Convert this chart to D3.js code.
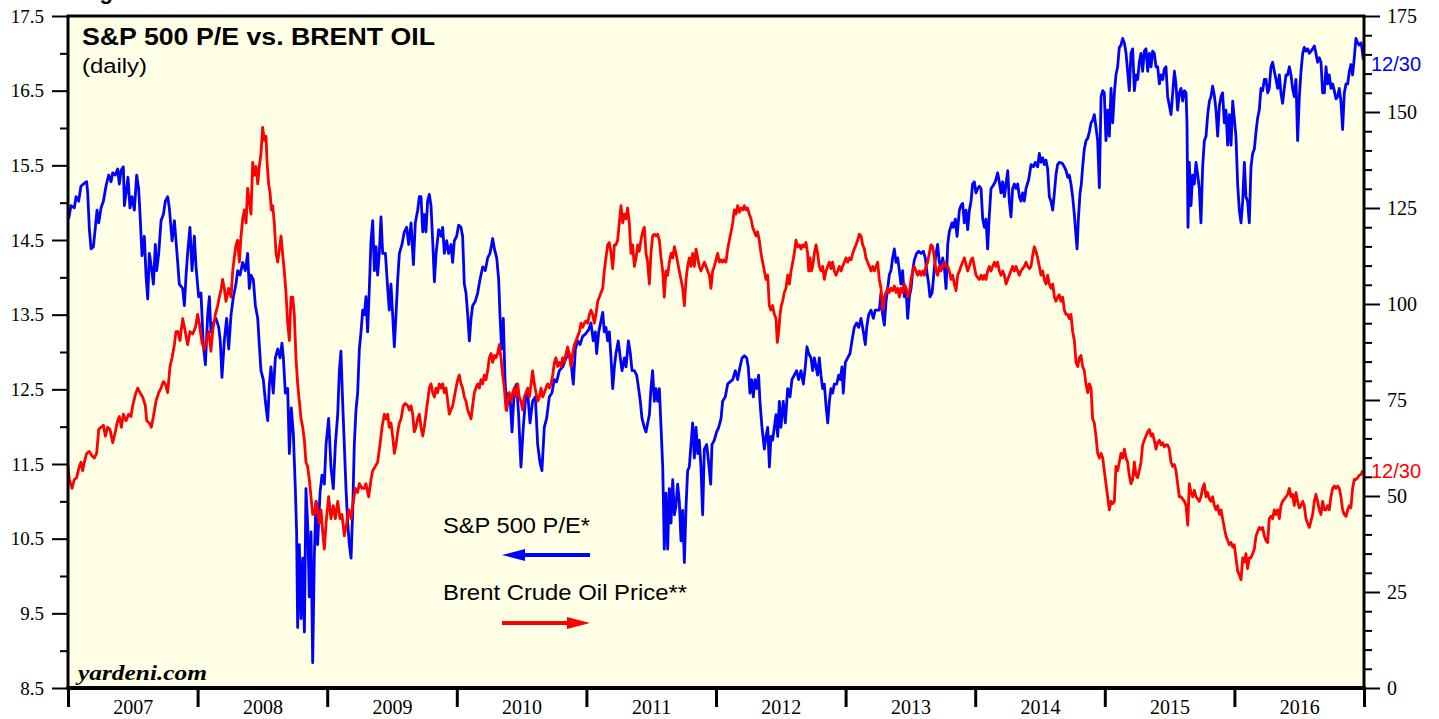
<!DOCTYPE html>
<html><head><meta charset="utf-8">
<script src="https://cdn.jsdelivr.net/npm/d3@7"></script>
<style>
html,body{margin:0;padding:0;background:#fff;overflow:hidden}
svg{display:block}
</style></head>
<body><svg id="chart" width="1439" height="719"></svg>
<script>
// S&P 500 forward P/E (left axis) — [decimal year, value]
const pePoints = [
[2007.005,14.78],[2007.023,14.96],[2007.049,14.93],[2007.062,15.08],[2007.082,15.02],[2007.100,15.22],[2007.126,15.26],[2007.144,15.28],[2007.152,15.13],[2007.165,14.64],[2007.178,14.38],[2007.196,14.41],[2007.211,14.67],[2007.224,14.90],[2007.237,14.73],[2007.255,14.93],[2007.273,15.02],[2007.293,15.22],[2007.314,15.37],[2007.332,15.28],[2007.345,15.40],[2007.365,15.37],[2007.383,15.45],[2007.396,15.25],[2007.409,15.43],[2007.427,15.48],[2007.435,14.96],[2007.448,15.13],[2007.463,15.34],[2007.478,14.93],[2007.494,15.08],[2007.512,14.90],[2007.530,15.37],[2007.545,15.19],[2007.556,14.84],[2007.571,14.29],[2007.589,14.55],[2007.602,14.03],[2007.615,13.71],[2007.628,14.32],[2007.643,14.14],[2007.659,13.91],[2007.674,14.44],[2007.684,14.09],[2007.700,14.32],[2007.718,14.76],[2007.736,14.84],[2007.751,15.02],[2007.769,15.08],[2007.782,14.93],[2007.803,14.49],[2007.821,14.76],[2007.841,14.32],[2007.859,13.91],[2007.885,13.85],[2007.898,13.62],[2007.911,14.03],[2007.923,14.32],[2007.941,14.67],[2007.957,14.09],[2007.975,14.55],[2007.988,14.14],
[2008.008,13.74],[2008.026,13.79],[2008.044,13.10],[2008.060,12.83],[2008.078,13.50],[2008.091,13.74],[2008.103,13.27],[2008.121,13.39],[2008.142,13.45],[2008.163,13.33],[2008.175,13.15],[2008.188,12.66],[2008.206,13.15],[2008.224,13.45],[2008.240,13.04],[2008.258,13.50],[2008.276,13.74],[2008.296,13.91],[2008.309,14.09],[2008.327,14.03],[2008.348,14.20],[2008.368,14.09],[2008.386,14.32],[2008.399,13.85],[2008.412,14.03],[2008.430,13.97],[2008.446,13.62],[2008.464,13.45],[2008.476,13.10],[2008.489,12.75],[2008.507,12.63],[2008.523,12.34],[2008.541,12.08],[2008.554,12.57],[2008.566,12.80],[2008.584,12.45],[2008.600,12.92],[2008.618,13.04],[2008.636,12.92],[2008.651,13.12],[2008.662,12.92],[2008.677,12.45],[2008.695,12.51],[2008.708,11.64],[2008.723,12.25],[2008.739,11.90],[2008.754,11.17],[2008.764,10.59],[2008.772,9.31],[2008.785,10.42],[2008.798,9.43],[2008.811,10.24],[2008.824,9.25],[2008.836,11.17],[2008.849,10.71],[2008.862,9.72],[2008.875,10.59],[2008.888,8.84],[2008.901,10.30],[2008.914,11.00],[2008.926,10.42],[2008.945,11.12],[2008.960,11.35],[2008.978,11.23],
[2008.991,11.76],[2009.011,12.11],[2009.029,11.46],[2009.047,11.17],[2009.063,11.76],[2009.081,12.16],[2009.094,12.75],[2009.106,13.01],[2009.119,12.34],[2009.132,11.76],[2009.145,11.17],[2009.158,10.71],[2009.171,10.42],[2009.184,10.24],[2009.197,10.88],[2009.209,11.76],[2009.222,12.22],[2009.235,12.45],[2009.248,13.04],[2009.261,13.27],[2009.274,13.56],[2009.287,13.50],[2009.299,13.74],[2009.312,13.27],[2009.325,13.85],[2009.338,14.49],[2009.351,14.76],[2009.364,14.09],[2009.377,14.41],[2009.389,14.03],[2009.402,14.32],[2009.415,14.81],[2009.428,14.32],[2009.449,14.32],[2009.467,13.85],[2009.479,13.56],[2009.492,13.91],[2009.505,13.50],[2009.518,13.07],[2009.531,13.50],[2009.544,13.97],[2009.557,14.32],[2009.577,14.44],[2009.595,14.61],[2009.613,14.67],[2009.629,14.44],[2009.647,14.73],[2009.665,14.17],[2009.680,14.73],[2009.698,14.90],[2009.711,15.08],[2009.724,15.08],[2009.737,14.61],[2009.749,14.84],[2009.762,14.61],[2009.775,15.02],[2009.788,15.11],[2009.801,14.96],[2009.814,14.49],[2009.827,13.94],[2009.840,14.32],[2009.860,14.64],[2009.878,14.55],[2009.891,14.67],[2009.904,14.32],[2009.922,14.49],[2009.937,14.32],[2009.955,14.44],[2009.968,14.20],[2009.981,14.49],[2009.999,14.55],
[2010.014,14.70],[2010.032,14.67],[2010.045,14.55],[2010.058,13.91],[2010.071,13.79],[2010.084,13.50],[2010.097,13.15],[2010.110,13.45],[2010.122,13.62],[2010.143,13.68],[2010.161,13.79],[2010.179,13.97],[2010.200,14.14],[2010.220,14.09],[2010.238,14.26],[2010.256,14.32],[2010.277,14.52],[2010.290,14.38],[2010.308,14.26],[2010.323,13.97],[2010.333,13.50],[2010.346,13.04],[2010.359,13.45],[2010.372,12.63],[2010.385,12.22],[2010.400,12.45],[2010.413,12.34],[2010.426,11.93],[2010.444,12.51],[2010.462,12.57],[2010.477,12.16],[2010.495,11.46],[2010.513,11.99],[2010.529,12.34],[2010.547,12.45],[2010.565,12.05],[2010.585,12.34],[2010.606,12.40],[2010.624,11.76],[2010.642,11.52],[2010.657,11.41],[2010.675,11.99],[2010.693,12.11],[2010.714,12.40],[2010.734,12.45],[2010.752,12.63],[2010.770,12.60],[2010.791,12.75],[2010.817,12.80],[2010.843,12.92],[2010.863,12.98],[2010.881,12.86],[2010.899,12.57],[2010.915,13.04],[2010.933,13.15],[2010.951,13.10],[2010.971,13.21],[2010.992,13.24],
[2011.018,13.30],[2011.035,13.39],[2011.053,13.15],[2011.069,13.27],[2011.079,12.98],[2011.095,13.27],[2011.113,13.42],[2011.126,13.53],[2011.138,13.27],[2011.151,13.33],[2011.164,13.15],[2011.177,13.27],[2011.190,12.92],[2011.203,12.51],[2011.216,12.80],[2011.228,12.98],[2011.246,13.15],[2011.262,12.92],[2011.275,12.75],[2011.293,12.92],[2011.306,12.80],[2011.324,13.15],[2011.339,12.98],[2011.352,12.75],[2011.370,12.75],[2011.388,12.69],[2011.403,12.51],[2011.416,12.34],[2011.429,12.11],[2011.447,11.99],[2011.460,11.93],[2011.473,12.05],[2011.486,12.16],[2011.498,12.51],[2011.511,12.75],[2011.524,12.34],[2011.537,12.51],[2011.550,12.34],[2011.563,12.51],[2011.576,11.99],[2011.589,11.46],[2011.601,10.36],[2011.614,11.11],[2011.627,10.36],[2011.640,11.17],[2011.653,10.71],[2011.666,11.29],[2011.679,10.82],[2011.691,10.94],[2011.704,11.23],[2011.717,11.00],[2011.730,10.47],[2011.743,10.88],[2011.756,10.18],[2011.769,10.94],[2011.781,11.41],[2011.794,11.46],[2011.807,11.76],[2011.820,12.05],[2011.833,11.58],[2011.846,11.99],[2011.859,11.64],[2011.871,11.82],[2011.884,11.46],[2011.897,10.82],[2011.910,11.70],[2011.928,11.76],[2011.943,11.52],[2011.959,11.23],[2011.969,11.76],[2011.987,11.82],
[2012.005,11.93],[2012.021,11.99],[2012.039,12.11],[2012.051,12.34],[2012.072,12.40],[2012.090,12.57],[2012.108,12.60],[2012.129,12.63],[2012.149,12.75],[2012.167,12.63],[2012.185,12.80],[2012.201,12.92],[2012.219,12.95],[2012.237,12.92],[2012.249,12.80],[2012.262,12.45],[2012.275,12.63],[2012.288,12.40],[2012.301,12.63],[2012.314,12.51],[2012.329,12.69],[2012.339,12.34],[2012.355,11.99],[2012.373,11.70],[2012.386,11.87],[2012.399,11.99],[2012.412,11.46],[2012.424,11.87],[2012.437,11.82],[2012.450,11.99],[2012.463,12.16],[2012.476,11.87],[2012.489,12.34],[2012.501,11.99],[2012.519,12.34],[2012.535,12.05],[2012.553,12.51],[2012.571,12.40],[2012.586,12.63],[2012.604,12.69],[2012.622,12.75],[2012.638,12.63],[2012.656,12.75],[2012.674,12.57],[2012.689,12.80],[2012.702,13.07],[2012.715,12.98],[2012.733,12.92],[2012.746,12.75],[2012.759,12.92],[2012.772,12.80],[2012.784,12.69],[2012.797,12.92],[2012.810,12.69],[2012.823,12.51],[2012.836,12.57],[2012.849,12.28],[2012.862,12.05],[2012.875,12.34],[2012.887,12.51],[2012.900,12.45],[2012.913,12.57],[2012.931,12.57],[2012.947,12.69],[2012.959,12.63],[2012.972,12.80],[2012.982,12.45],[2012.998,12.86],
[2013.016,12.92],[2013.034,12.98],[2013.049,13.15],[2013.067,13.33],[2013.085,13.39],[2013.101,13.33],[2013.119,13.45],[2013.137,13.27],[2013.152,13.10],[2013.163,13.33],[2013.178,13.50],[2013.196,13.56],[2013.214,13.45],[2013.229,13.56],[2013.247,13.56],[2013.260,13.56],[2013.273,13.79],[2013.286,13.50],[2013.299,13.36],[2013.312,13.68],[2013.325,13.85],[2013.337,14.03],[2013.350,14.09],[2013.363,14.26],[2013.376,14.38],[2013.389,14.20],[2013.402,14.26],[2013.415,14.09],[2013.427,13.91],[2013.440,14.09],[2013.453,13.74],[2013.466,13.85],[2013.479,13.45],[2013.492,13.74],[2013.505,13.85],[2013.518,14.09],[2013.530,14.23],[2013.548,14.32],[2013.564,14.35],[2013.582,14.32],[2013.600,14.35],[2013.615,14.26],[2013.626,14.09],[2013.641,13.91],[2013.651,13.74],[2013.667,13.79],[2013.677,13.97],[2013.685,14.14],[2013.698,14.32],[2013.710,14.44],[2013.723,14.20],[2013.736,14.14],[2013.749,14.26],[2013.762,14.14],[2013.775,13.85],[2013.788,14.44],[2013.800,14.61],[2013.821,14.73],[2013.831,14.67],[2013.847,14.78],[2013.860,14.55],[2013.878,14.90],[2013.890,14.96],[2013.903,14.99],[2013.916,14.73],[2013.929,14.90],[2013.942,14.64],[2013.955,14.90],[2013.968,15.02],[2013.980,15.25],[2013.993,15.28],
[2014.006,15.13],[2014.019,15.19],[2014.032,15.22],[2014.045,15.19],[2014.058,14.78],[2014.071,14.67],[2014.083,14.78],[2014.096,14.38],[2014.109,14.84],[2014.122,15.19],[2014.135,15.22],[2014.155,15.28],[2014.173,15.40],[2014.186,15.28],[2014.199,15.13],[2014.212,15.28],[2014.225,15.08],[2014.238,15.25],[2014.251,15.43],[2014.263,15.02],[2014.276,14.81],[2014.289,15.19],[2014.302,15.25],[2014.315,15.19],[2014.328,15.25],[2014.341,15.08],[2014.353,15.02],[2014.366,15.13],[2014.379,15.02],[2014.392,15.19],[2014.413,15.31],[2014.431,15.51],[2014.449,15.48],[2014.464,15.54],[2014.482,15.48],[2014.495,15.66],[2014.508,15.54],[2014.521,15.60],[2014.533,15.51],[2014.546,15.57],[2014.559,15.45],[2014.572,15.08],[2014.585,15.02],[2014.598,14.90],[2014.611,15.13],[2014.623,15.37],[2014.636,15.51],[2014.649,15.54],[2014.670,15.53],[2014.688,15.48],[2014.701,15.43],[2014.714,15.34],[2014.726,15.37],[2014.739,15.25],[2014.752,15.08],[2014.765,14.84],[2014.778,14.55],[2014.786,14.38],[2014.796,14.78],[2014.809,15.13],[2014.819,15.25],[2014.829,15.48],[2014.842,15.72],[2014.855,15.83],[2014.868,15.86],[2014.881,15.95],[2014.894,16.07],[2014.906,16.10],[2014.919,16.18],[2014.932,16.01],[2014.945,15.83],[2014.958,15.20],[2014.971,16.42],[2014.984,16.50],[2014.996,16.47],[2015.009,15.83],
[2015.022,16.24],[2015.035,15.89],[2015.048,16.53],[2015.061,16.07],[2015.074,16.47],[2015.086,16.71],[2015.099,16.82],[2015.112,17.08],[2015.125,17.11],[2015.138,17.20],[2015.151,17.14],[2015.164,17.00],[2015.176,16.76],[2015.189,16.50],[2015.202,17.00],[2015.215,17.06],[2015.228,16.50],[2015.241,16.71],[2015.254,16.65],[2015.266,16.88],[2015.279,17.00],[2015.292,16.76],[2015.305,17.03],[2015.318,17.06],[2015.331,16.76],[2015.344,17.00],[2015.357,16.82],[2015.369,17.03],[2015.382,17.00],[2015.395,16.82],[2015.408,16.82],[2015.421,16.59],[2015.434,16.71],[2015.447,16.65],[2015.459,16.79],[2015.472,16.82],[2015.485,16.42],[2015.498,16.30],[2015.511,16.18],[2015.524,16.47],[2015.537,16.76],[2015.549,16.59],[2015.562,16.24],[2015.575,16.47],[2015.588,16.53],[2015.601,16.36],[2015.614,16.50],[2015.627,16.47],[2015.634,16.07],[2015.642,14.67],[2015.652,15.54],[2015.665,14.96],[2015.678,15.37],[2015.691,15.25],[2015.704,15.54],[2015.717,15.37],[2015.729,15.19],[2015.742,14.73],[2015.755,15.48],[2015.768,15.83],[2015.781,15.89],[2015.794,16.18],[2015.807,16.36],[2015.819,16.42],[2015.832,16.56],[2015.845,16.44],[2015.858,16.24],[2015.871,15.89],[2015.884,16.30],[2015.897,16.42],[2015.909,16.47],[2015.922,16.07],[2015.935,16.24],[2015.948,15.77],[2015.961,16.18],[2015.974,15.77],[2015.987,16.36],[2015.999,16.13],
[2016.012,15.89],[2016.025,15.25],[2016.038,14.90],[2016.051,14.73],[2016.064,15.02],[2016.077,15.54],[2016.089,15.08],[2016.102,15.02],[2016.115,14.73],[2016.128,15.48],[2016.141,15.66],[2016.154,15.72],[2016.167,15.95],[2016.179,16.13],[2016.192,16.24],[2016.205,16.53],[2016.218,16.50],[2016.231,16.65],[2016.244,16.65],[2016.257,16.47],[2016.269,16.53],[2016.282,16.82],[2016.295,16.88],[2016.308,16.76],[2016.321,16.65],[2016.334,16.53],[2016.347,16.71],[2016.359,16.47],[2016.372,16.33],[2016.385,16.53],[2016.398,16.71],[2016.411,16.71],[2016.424,16.82],[2016.437,16.71],[2016.449,16.53],[2016.462,16.42],[2016.475,16.65],[2016.488,15.83],[2016.501,16.42],[2016.514,16.76],[2016.527,17.00],[2016.539,17.08],[2016.552,17.03],[2016.565,17.06],[2016.578,17.00],[2016.591,17.03],[2016.604,17.06],[2016.617,17.10],[2016.629,17.00],[2016.642,16.88],[2016.655,16.94],[2016.668,16.88],[2016.681,16.47],[2016.694,16.47],[2016.707,16.82],[2016.719,16.59],[2016.732,16.71],[2016.745,16.53],[2016.758,16.59],[2016.771,16.50],[2016.784,16.39],[2016.797,16.42],[2016.809,16.53],[2016.822,16.36],[2016.835,15.98],[2016.848,16.47],[2016.861,16.59],[2016.874,16.59],[2016.887,16.76],[2016.899,16.85],[2016.912,16.71],[2016.925,16.94],[2016.938,17.20],[2016.951,17.14],[2016.964,17.11],[2016.977,17.14],[2016.985,17.06],[2016.995,16.91]
];

// Brent crude oil price, $ per barrel (right axis) — [decimal year, value]
const oilPoints = [
[2006.997,58.8],[2007.010,54.3],[2007.031,52.0],[2007.049,54.3],[2007.067,54.8],[2007.087,57.7],[2007.100,58.8],[2007.113,56.6],[2007.126,58.8],[2007.144,61.1],[2007.165,61.6],[2007.185,60.5],[2007.203,59.9],[2007.221,61.1],[2007.237,67.3],[2007.255,67.9],[2007.273,68.4],[2007.288,65.6],[2007.306,67.9],[2007.324,67.3],[2007.345,63.9],[2007.365,66.7],[2007.383,69.6],[2007.396,70.7],[2007.412,67.9],[2007.427,71.3],[2007.448,69.6],[2007.468,71.3],[2007.486,70.7],[2007.499,73.5],[2007.520,76.4],[2007.538,78.1],[2007.556,76.9],[2007.576,75.8],[2007.597,73.5],[2007.607,69.6],[2007.628,69.0],[2007.643,67.9],[2007.659,70.7],[2007.679,74.7],[2007.700,76.9],[2007.718,78.1],[2007.736,79.8],[2007.751,79.2],[2007.769,76.9],[2007.787,83.7],[2007.803,86.0],[2007.821,89.4],[2007.833,92.8],[2007.849,92.8],[2007.864,90.5],[2007.885,96.2],[2007.905,92.8],[2007.923,89.4],[2007.941,92.8],[2007.962,92.2],[2007.983,93.9],
[2008.000,97.3],[2008.013,95.0],[2008.034,89.9],[2008.052,88.2],[2008.070,90.5],[2008.086,92.8],[2008.103,87.7],[2008.116,92.8],[2008.137,97.3],[2008.155,99.6],[2008.168,101.8],[2008.183,104.1],[2008.193,106.4],[2008.206,104.1],[2008.219,100.7],[2008.240,104.1],[2008.258,101.8],[2008.271,108.6],[2008.283,112.0],[2008.296,115.4],[2008.309,116.6],[2008.322,110.9],[2008.335,117.7],[2008.348,122.2],[2008.361,124.5],[2008.374,121.1],[2008.386,130.1],[2008.399,126.7],[2008.412,123.4],[2008.425,136.9],[2008.438,133.5],[2008.451,135.8],[2008.464,131.3],[2008.476,135.8],[2008.489,139.2],[2008.502,146.0],[2008.515,142.6],[2008.528,143.7],[2008.536,136.9],[2008.548,131.3],[2008.559,129.0],[2008.569,124.5],[2008.579,125.6],[2008.592,121.1],[2008.605,113.2],[2008.618,110.9],[2008.631,114.3],[2008.644,117.7],[2008.656,113.2],[2008.669,108.6],[2008.682,103.0],[2008.695,95.0],[2008.708,90.5],[2008.721,101.8],[2008.734,101.8],[2008.746,97.3],[2008.759,86.0],[2008.772,79.2],[2008.785,74.7],[2008.798,70.1],[2008.811,67.9],[2008.824,64.5],[2008.836,58.8],[2008.849,57.7],[2008.862,54.3],[2008.875,49.8],[2008.888,45.2],[2008.901,45.2],[2008.914,48.6],[2008.926,46.4],[2008.939,42.9],[2008.952,46.4],[2008.965,40.7],[2008.978,36.2],
[2008.991,42.9],[2009.011,49.8],[2009.029,44.1],[2009.047,47.5],[2009.063,44.1],[2009.081,48.6],[2009.099,44.1],[2009.114,45.2],[2009.132,39.6],[2009.150,42.9],[2009.166,46.4],[2009.184,44.1],[2009.197,47.5],[2009.217,52.0],[2009.235,50.9],[2009.248,53.2],[2009.269,52.0],[2009.287,52.0],[2009.299,53.2],[2009.320,49.8],[2009.338,54.3],[2009.351,56.6],[2009.371,57.7],[2009.389,58.8],[2009.407,63.3],[2009.423,67.9],[2009.441,71.3],[2009.454,70.1],[2009.467,71.3],[2009.479,67.9],[2009.492,69.0],[2009.505,65.6],[2009.518,61.1],[2009.531,63.3],[2009.544,66.7],[2009.557,69.0],[2009.570,70.1],[2009.587,73.5],[2009.603,74.1],[2009.621,73.5],[2009.634,72.4],[2009.647,73.5],[2009.660,71.3],[2009.672,66.7],[2009.685,67.9],[2009.698,70.1],[2009.711,71.3],[2009.724,67.9],[2009.737,65.6],[2009.749,67.9],[2009.762,71.3],[2009.775,74.7],[2009.788,78.1],[2009.801,79.2],[2009.814,76.9],[2009.827,75.8],[2009.840,78.1],[2009.852,76.9],[2009.865,79.2],[2009.878,78.1],[2009.891,79.2],[2009.904,76.9],[2009.917,78.1],[2009.930,74.7],[2009.942,71.3],[2009.955,72.4],[2009.968,73.5],[2009.981,75.8],[2009.994,78.1],
[2010.007,80.3],[2010.020,81.5],[2010.032,79.2],[2010.045,78.1],[2010.058,75.8],[2010.071,74.7],[2010.084,72.4],[2010.097,71.3],[2010.110,70.1],[2010.122,73.5],[2010.135,76.9],[2010.148,78.1],[2010.161,79.2],[2010.174,78.1],[2010.187,80.3],[2010.200,79.2],[2010.212,81.5],[2010.225,80.3],[2010.238,82.6],[2010.251,86.0],[2010.264,87.1],[2010.277,84.8],[2010.290,86.6],[2010.302,86.0],[2010.315,87.1],[2010.328,89.4],[2010.341,86.0],[2010.354,81.5],[2010.367,78.1],[2010.380,72.4],[2010.393,74.7],[2010.405,76.9],[2010.418,74.7],[2010.431,76.9],[2010.444,78.1],[2010.457,75.8],[2010.470,79.2],[2010.482,75.8],[2010.495,74.7],[2010.508,72.4],[2010.521,75.8],[2010.534,76.9],[2010.547,78.1],[2010.560,75.8],[2010.573,79.2],[2010.585,82.6],[2010.598,79.2],[2010.611,76.9],[2010.624,74.7],[2010.637,75.8],[2010.650,78.1],[2010.663,75.8],[2010.675,76.9],[2010.688,78.1],[2010.701,79.2],[2010.714,78.1],[2010.727,79.2],[2010.740,81.5],[2010.753,84.8],[2010.765,86.0],[2010.778,83.7],[2010.791,84.8],[2010.804,83.7],[2010.817,86.0],[2010.830,84.8],[2010.843,87.1],[2010.855,88.8],[2010.868,87.1],[2010.881,83.7],[2010.894,87.1],[2010.907,89.4],[2010.920,90.5],[2010.933,91.6],[2010.946,92.8],[2010.958,95.0],[2010.971,93.9],[2010.984,95.0],[2010.997,95.6],
[2011.010,95.0],[2011.023,97.3],[2011.035,98.4],[2011.048,97.3],[2011.061,95.0],[2011.074,97.3],[2011.087,100.7],[2011.100,101.8],[2011.113,103.0],[2011.126,104.1],[2011.138,108.6],[2011.151,112.0],[2011.164,115.4],[2011.177,116.0],[2011.190,113.2],[2011.203,109.2],[2011.216,115.4],[2011.228,115.4],[2011.241,116.6],[2011.254,121.1],[2011.267,125.6],[2011.280,121.1],[2011.293,123.4],[2011.306,122.2],[2011.318,125.0],[2011.331,121.1],[2011.344,113.2],[2011.357,115.4],[2011.370,109.8],[2011.383,112.0],[2011.396,115.4],[2011.408,113.7],[2011.421,116.6],[2011.434,118.8],[2011.447,120.0],[2011.460,113.2],[2011.473,110.9],[2011.486,105.2],[2011.498,113.2],[2011.511,117.7],[2011.524,118.2],[2011.537,117.7],[2011.550,118.2],[2011.563,116.6],[2011.576,112.0],[2011.589,108.6],[2011.601,101.8],[2011.614,108.6],[2011.627,107.5],[2011.640,110.9],[2011.653,113.2],[2011.666,112.0],[2011.679,114.9],[2011.691,113.2],[2011.704,110.9],[2011.717,108.6],[2011.730,106.4],[2011.743,104.1],[2011.756,99.6],[2011.769,106.4],[2011.781,109.8],[2011.794,112.0],[2011.807,109.8],[2011.820,113.2],[2011.833,109.8],[2011.846,114.3],[2011.859,112.0],[2011.871,109.8],[2011.884,108.6],[2011.897,109.8],[2011.910,110.9],[2011.923,109.8],[2011.936,108.6],[2011.949,107.5],[2011.961,104.1],[2011.974,108.6],[2011.987,109.8],
[2012.000,111.5],[2012.013,113.2],[2012.026,110.9],[2012.039,111.5],[2012.051,110.9],[2012.064,111.5],[2012.077,110.9],[2012.090,114.3],[2012.103,116.6],[2012.116,118.8],[2012.129,121.1],[2012.141,124.5],[2012.154,123.4],[2012.167,125.6],[2012.180,123.9],[2012.193,125.0],[2012.206,124.5],[2012.219,125.6],[2012.231,124.5],[2012.244,125.0],[2012.257,123.4],[2012.270,122.2],[2012.283,120.0],[2012.296,118.8],[2012.309,117.7],[2012.321,118.8],[2012.334,116.6],[2012.347,113.2],[2012.360,110.9],[2012.373,108.6],[2012.386,106.4],[2012.399,107.5],[2012.411,99.6],[2012.424,98.4],[2012.437,99.6],[2012.450,97.3],[2012.463,96.2],[2012.473,90.0],[2012.484,92.8],[2012.494,97.3],[2012.504,99.6],[2012.514,100.7],[2012.527,103.0],[2012.540,104.1],[2012.553,107.5],[2012.566,105.2],[2012.579,108.6],[2012.592,110.9],[2012.604,113.2],[2012.617,116.6],[2012.630,114.9],[2012.643,115.4],[2012.656,114.3],[2012.669,115.4],[2012.682,114.9],[2012.694,116.0],[2012.707,113.2],[2012.715,108.6],[2012.725,112.0],[2012.736,108.6],[2012.746,109.8],[2012.759,113.2],[2012.772,115.4],[2012.784,113.2],[2012.797,109.8],[2012.810,108.6],[2012.823,109.8],[2012.836,106.4],[2012.849,108.6],[2012.862,109.8],[2012.875,110.9],[2012.887,109.2],[2012.900,110.9],[2012.913,108.6],[2012.926,107.5],[2012.939,108.6],[2012.952,109.8],[2012.965,108.6],[2012.977,109.8],[2012.990,110.9],[2013.003,112.0],
[2013.016,110.9],[2013.029,112.0],[2013.042,111.5],[2013.055,113.2],[2013.067,114.3],[2013.080,115.4],[2013.093,116.6],[2013.106,118.2],[2013.119,117.7],[2013.132,115.4],[2013.145,114.3],[2013.157,112.0],[2013.170,110.9],[2013.183,109.8],[2013.196,108.6],[2013.209,109.8],[2013.222,108.6],[2013.235,109.8],[2013.247,110.9],[2013.260,106.4],[2013.273,104.1],[2013.286,98.4],[2013.299,101.8],[2013.312,103.0],[2013.325,104.1],[2013.337,103.0],[2013.350,104.1],[2013.363,103.5],[2013.376,104.7],[2013.389,103.0],[2013.402,104.1],[2013.415,101.8],[2013.427,104.1],[2013.440,103.0],[2013.453,105.2],[2013.466,104.1],[2013.479,101.8],[2013.492,103.0],[2013.505,106.4],[2013.518,108.6],[2013.530,109.8],[2013.543,108.6],[2013.556,107.5],[2013.569,108.6],[2013.582,107.5],[2013.595,108.6],[2013.608,107.5],[2013.620,109.8],[2013.633,110.9],[2013.646,113.2],[2013.659,115.4],[2013.672,114.9],[2013.685,112.0],[2013.698,108.6],[2013.710,107.5],[2013.723,109.8],[2013.736,108.6],[2013.749,109.8],[2013.762,110.9],[2013.775,109.8],[2013.788,109.8],[2013.800,108.6],[2013.813,106.4],[2013.826,107.5],[2013.839,105.2],[2013.852,103.5],[2013.865,107.5],[2013.878,108.6],[2013.890,109.8],[2013.903,110.9],[2013.916,112.0],[2013.929,110.3],[2013.942,108.6],[2013.955,109.8],[2013.968,111.5],[2013.980,112.0],[2013.993,109.8],
[2014.006,107.5],[2014.019,106.9],[2014.032,106.4],[2014.045,107.5],[2014.058,106.4],[2014.071,107.5],[2014.083,106.4],[2014.096,108.6],[2014.109,109.8],[2014.122,108.6],[2014.135,109.8],[2014.148,110.9],[2014.160,109.8],[2014.173,110.9],[2014.186,108.6],[2014.199,107.5],[2014.212,108.6],[2014.225,107.5],[2014.238,105.2],[2014.251,106.4],[2014.263,107.5],[2014.276,108.6],[2014.289,109.8],[2014.302,108.6],[2014.315,109.8],[2014.328,108.6],[2014.341,107.5],[2014.353,108.6],[2014.366,109.2],[2014.379,109.8],[2014.392,110.9],[2014.405,109.8],[2014.418,109.2],[2014.431,109.8],[2014.443,112.6],[2014.456,114.9],[2014.469,113.7],[2014.482,112.0],[2014.495,109.8],[2014.508,107.5],[2014.521,108.6],[2014.533,106.4],[2014.546,105.2],[2014.559,107.5],[2014.572,105.2],[2014.585,104.1],[2014.598,105.2],[2014.611,101.8],[2014.623,100.7],[2014.636,101.8],[2014.649,102.4],[2014.662,100.7],[2014.675,101.8],[2014.688,98.4],[2014.701,97.3],[2014.714,97.3],[2014.726,96.2],[2014.739,97.3],[2014.752,92.8],[2014.765,90.5],[2014.778,84.8],[2014.791,83.7],[2014.804,86.0],[2014.816,86.6],[2014.829,83.7],[2014.842,82.6],[2014.855,79.2],[2014.868,76.9],[2014.881,79.2],[2014.894,78.1],[2014.906,70.1],[2014.919,69.0],[2014.932,65.6],[2014.945,61.1],[2014.958,59.9],[2014.971,61.1],[2014.984,59.9],[2014.996,56.6],
[2015.022,49.8],[2015.035,46.4],[2015.048,48.6],[2015.061,48.0],[2015.074,48.6],[2015.086,57.7],[2015.099,56.6],[2015.112,58.8],[2015.125,61.1],[2015.138,59.9],[2015.151,62.2],[2015.164,59.9],[2015.176,58.8],[2015.189,55.4],[2015.202,53.2],[2015.215,54.3],[2015.228,58.8],[2015.241,55.4],[2015.254,54.8],[2015.266,56.6],[2015.279,58.8],[2015.292,63.3],[2015.305,64.5],[2015.318,65.6],[2015.331,66.7],[2015.344,67.3],[2015.357,65.6],[2015.369,66.2],[2015.382,64.5],[2015.395,62.2],[2015.408,63.9],[2015.421,64.5],[2015.434,63.3],[2015.447,63.9],[2015.459,62.8],[2015.472,63.3],[2015.485,63.3],[2015.498,62.2],[2015.511,58.8],[2015.524,57.7],[2015.537,58.2],[2015.549,56.6],[2015.562,53.2],[2015.575,49.8],[2015.588,49.8],[2015.601,49.2],[2015.614,48.6],[2015.627,47.5],[2015.640,42.4],[2015.652,53.2],[2015.665,50.9],[2015.678,49.8],[2015.691,51.5],[2015.704,49.8],[2015.717,49.2],[2015.729,48.6],[2015.742,49.8],[2015.755,52.0],[2015.768,53.2],[2015.781,49.8],[2015.794,50.9],[2015.807,49.2],[2015.819,48.6],[2015.832,49.8],[2015.845,47.5],[2015.858,46.4],[2015.871,47.5],[2015.884,45.2],[2015.897,46.4],[2015.909,44.1],[2015.922,41.8],[2015.935,39.6],[2015.948,38.4],[2015.961,37.3],[2015.974,37.9],[2015.987,36.7],[2015.999,37.3],
[2016.012,33.9],[2016.025,30.5],[2016.038,29.4],[2016.051,28.2],[2016.064,33.9],[2016.077,32.8],[2016.089,35.0],[2016.102,31.1],[2016.115,33.9],[2016.128,33.9],[2016.141,35.0],[2016.154,36.2],[2016.167,39.6],[2016.179,40.7],[2016.192,41.8],[2016.205,41.3],[2016.218,41.8],[2016.231,39.6],[2016.244,38.4],[2016.257,37.9],[2016.269,44.1],[2016.282,44.7],[2016.295,44.1],[2016.308,46.4],[2016.321,45.2],[2016.334,46.4],[2016.347,44.1],[2016.359,47.5],[2016.372,48.6],[2016.385,49.2],[2016.398,49.8],[2016.411,50.4],[2016.424,52.0],[2016.437,49.8],[2016.449,50.4],[2016.462,47.5],[2016.475,50.9],[2016.488,48.6],[2016.501,46.9],[2016.514,47.5],[2016.527,48.6],[2016.539,47.5],[2016.552,44.1],[2016.565,42.9],[2016.578,41.8],[2016.591,43.5],[2016.604,45.2],[2016.617,48.6],[2016.629,50.4],[2016.642,48.6],[2016.655,46.4],[2016.668,45.2],[2016.681,48.6],[2016.694,46.4],[2016.707,46.4],[2016.719,47.5],[2016.732,46.4],[2016.745,49.8],[2016.758,52.0],[2016.771,52.6],[2016.784,52.0],[2016.797,52.6],[2016.809,52.0],[2016.822,49.8],[2016.835,46.4],[2016.848,45.2],[2016.861,44.7],[2016.874,46.4],[2016.887,47.5],[2016.899,46.9],[2016.912,52.0],[2016.925,54.3],[2016.938,54.3],[2016.951,54.8],[2016.964,55.4],[2016.977,55.6],[2016.990,56.6]
];

const yearLabels = [2007,2008,2009,2010,2011,2012,2013,2014,2015,2016];
const leftMajorTicks = [8.5,9.5,10.5,11.5,12.5,13.5,14.5,15.5,16.5,17.5];
const leftMinorTicks = [9,10,11,12,13,14,15,16,17];
const rightMajorTicks = [0,25,50,75,100,125,150,175];
const rightMinorTicks = d3.range(5,175,5).filter(v => v % 25 !== 0);
const seriesNames = ["S&P 500 P/E*", "Brent Crude Oil Price**"];
const endLabel = "12/30";

const svg = d3.select("#chart");
const L = 68, R = 1364, T = 16, B = 688;
const sans = "Arial, 'Liberation Sans', Helvetica, sans-serif";
const serif = "'Times New Roman', 'Liberation Serif', Times, serif";

const x = d3.scaleLinear().domain([2007, 2017]).range([L, R]);
const yL = d3.scaleLinear().domain([8.5, 17.5]).range([B, T]);
const yR = d3.scaleLinear().domain([0, 175]).range([B, T]);

// figure caption, mostly above the top edge as in the reference
svg.append("text").attr("x", 80).attr("y", -1).attr("font-family", sans)
  .attr("font-weight", "bold").attr("font-size", 22).text("Figure 6.");

// plot background
svg.append("rect").attr("x", L).attr("y", T).attr("width", R - L).attr("height", B - T)
  .attr("fill", "#ffffe6");

// clip
svg.append("clipPath").attr("id", "clip").append("rect")
  .attr("x", L).attr("y", T).attr("width", R - L).attr("height", B - T);

const gLines = svg.append("g").attr("clip-path", "url(#clip)");
gLines.append("path").datum(pePoints)
  .attr("d", d3.line().x(d => x(d[0])).y(d => yL(d[1])))
  .attr("fill", "none").attr("stroke", "#0000ff").attr("stroke-width", 2.8)
  .attr("stroke-linejoin", "round");
gLines.append("path").datum(oilPoints)
  .attr("d", d3.line().x(d => x(d[0])).y(d => yR(d[1])))
  .attr("fill", "none").attr("stroke", "#ff0000").attr("stroke-width", 2.8)
  .attr("stroke-linejoin", "round");

function styleAxis(g, size) {
  g.select(".domain").remove();
  g.selectAll("line").attr("stroke", "#000").attr("stroke-width", 2);
  g.selectAll("text").attr("font-family", serif).attr("font-size", size).attr("fill", "#000");
}

// left axis
const gl = svg.append("g").attr("transform", `translate(${L},0)`);
gl.append("g").call(d3.axisLeft(yL).tickValues(leftMinorTicks).tickSize(8).tickFormat(""))
  .call(g => styleAxis(g, 19));
gl.append("g").call(d3.axisLeft(yL).tickValues(leftMajorTicks).tickSize(16).tickPadding(8).tickFormat(d3.format(".1f")))
  .call(g => styleAxis(g, 19));

// right axis
const gr = svg.append("g").attr("transform", `translate(${R},0)`);
gr.append("g").call(d3.axisRight(yR).tickValues(rightMinorTicks).tickSize(8).tickFormat(""))
  .call(g => styleAxis(g, 19));
gr.append("g").call(d3.axisRight(yR).tickValues(rightMajorTicks).tickSize(16).tickPadding(7).tickFormat(d3.format("d")))
  .call(g => styleAxis(g, 20));

// bottom axis: year boundaries + centered labels
const gb = svg.append("g").attr("transform", `translate(0,${B})`);
gb.append("g").call(d3.axisBottom(x).tickValues(yearLabels.concat([2017])).tickSize(19).tickFormat(""))
  .call(g => { g.select(".domain").remove(); g.selectAll("line").attr("stroke", "#000").attr("stroke-width", 3); });
gb.append("g").call(d3.axisBottom(x).tickValues(yearLabels.map(v => v + 0.5)).tickSize(0).tickPadding(12).tickFormat(d => String(Math.floor(d))))
  .call(g => { g.select(".domain").remove(); g.selectAll("text").attr("font-family", serif).attr("font-size", 20).attr("fill", "#000"); });

// frame
svg.append("rect").attr("x", L).attr("y", T).attr("width", R - L).attr("height", B - T)
  .attr("fill", "none").attr("stroke", "#000").attr("stroke-width", 3);
svg.append("line").attr("x1", L - 1.5).attr("x2", R + 1.5).attr("y1", B).attr("y2", B)
  .attr("stroke", "#000").attr("stroke-width", 4);

// titles
svg.append("text").attr("x", 82).attr("y", 45).attr("font-family", sans).attr("font-weight", "bold")
  .attr("font-size", 24).attr("textLength", 353).attr("lengthAdjust", "spacingAndGlyphs")
  .text("S&P 500 P/E vs. BRENT OIL");
svg.append("text").attr("x", 82).attr("y", 73).attr("font-family", sans)
  .attr("font-size", 20).attr("textLength", 65).attr("lengthAdjust", "spacingAndGlyphs").text("(daily)");

// watermark
svg.append("text").attr("x", 78).attr("y", 680).attr("font-family", serif).attr("font-weight", "bold")
  .attr("font-style", "italic").attr("font-size", 22).attr("textLength", 129).attr("lengthAdjust", "spacingAndGlyphs")
  .text("yardeni.com");

// legend
svg.append("text").attr("x", 443).attr("y", 533).attr("font-family", sans).attr("font-size", 22)
  .attr("textLength", 147).attr("lengthAdjust", "spacingAndGlyphs").text(seriesNames[0]);
svg.append("line").attr("x1", 590).attr("x2", 520).attr("y1", 555).attr("y2", 555)
  .attr("stroke", "#0000ff").attr("stroke-width", 4);
svg.append("path").attr("d", "M502,555 L525,549 L525,561 Z").attr("fill", "#0000ff");

svg.append("text").attr("x", 443).attr("y", 600).attr("font-family", sans).attr("font-size", 22)
  .attr("textLength", 244).attr("lengthAdjust", "spacingAndGlyphs").text(seriesNames[1]);
svg.append("line").attr("x1", 502).attr("x2", 572).attr("y1", 623).attr("y2", 623)
  .attr("stroke", "#ff0000").attr("stroke-width", 4);
svg.append("path").attr("d", "M590,623 L567,617 L567,629 Z").attr("fill", "#ff0000");

// end labels
const lastPe = pePoints[pePoints.length - 1];
const lastOil = oilPoints[oilPoints.length - 1];
svg.append("text").attr("x", R + 7).attr("y", yL(lastPe[1]) + 11).attr("font-family", sans)
  .attr("font-size", 20).attr("fill", "#0000ff").text(endLabel);
svg.append("text").attr("x", R + 7).attr("y", yR(lastOil[1]) + 7).attr("font-family", sans)
  .attr("font-size", 20).attr("fill", "#ff0000").text(endLabel);
</script>
</body></html>
